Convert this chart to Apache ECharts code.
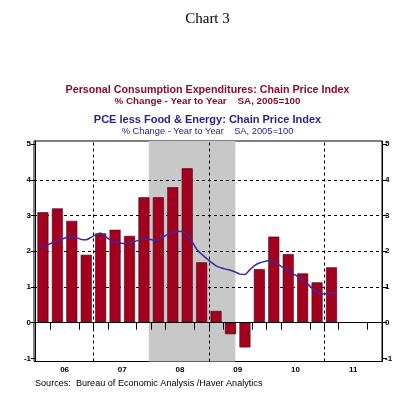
<!DOCTYPE html>
<html><head><meta charset="utf-8">
<script src="https://cdn.jsdelivr.net/npm/echarts@6/dist/echarts.min.js"></script>
<style>html,body{margin:0;padding:0;background:#fff}#c{width:415px;height:393px}</style>
</head><body><div id="c"></div>
<script>
// Quarterly PCE chain price index, % change y/y, 2006Q1..2011Q1
const pce = [3.09, 3.20, 2.85, 1.90, 2.50, 2.60, 2.43, 3.51, 3.51, 3.79, 4.32, 1.69,
             0.33, -0.32, -0.69, 1.50, 2.41, 1.92, 1.38, 1.13, 1.55];
// Monthly core PCE (less food & energy), % change y/y, Jan 2006..Mar 2011
const core = [2.17, 2.12, 2.18, 2.24, 2.30, 2.34, 2.39, 2.43, 2.38, 2.33, 2.32, 2.39,
              2.46, 2.51, 2.41, 2.32, 2.26, 2.23, 2.21, 2.23, 2.27, 2.31, 2.35, 2.34,
              2.31, 2.31, 2.40, 2.48, 2.52, 2.56, 2.55, 2.48, 2.27, 2.05, 1.92, 1.80,
              1.69, 1.59, 1.54, 1.50, 1.47, 1.42, 1.36, 1.35, 1.48, 1.60, 1.67, 1.71,
              1.74, 1.74, 1.63, 1.54, 1.46, 1.37, 1.29, 1.20, 1.09, 0.96, 0.86, 0.80,
              0.82, 0.83, 0.84];
const yearLabels = ['06', '07', '08', '09', '10', '11'];
const yTicks = [-1, 0, 1, 2, 3, 4, 5];
const gridLevels = [1, 2, 3, 4];
const yearGridQuarters = [4, 12, 20];      // Jan 2007, Jan 2009, Jan 2011
const recessionMonths = [23, 41];          // Dec 2007 .. Jun 2009 (months since Jan 2006)

const RED = '#A30020', BLUE = '#3A2A9E';
const barData = pce.map((v, i) => [i + 0.5, v]);
const lineData = core.map((v, i) => [(i + 0.5) / 3, v]);
const tickVals = [];
for (let q = 0; q <= 24; q++) if (q % 4 !== 2) tickVals.push(q);
const labelVals = yearLabels.map((_, i) => i * 4 + 2);

const chart = echarts.init(document.getElementById('c'));
const axisFont = { fontFamily: 'Liberation Sans, Arial, sans-serif', fontWeight: 'bold', fontSize: 8, color: '#000' };
chart.setOption({
  animation: false,
  backgroundColor: '#fff',
  grid: { left: 34, right: 33, top: 141, bottom: 31.5, show: true, borderColor: '#000', borderWidth: 1 },
  graphic: [
    { type: 'text', left: 'center', top: 12, style: { text: 'Chart 3', font: '15px "Liberation Serif", "Times New Roman", serif', fill: '#000' } },
    { type: 'text', left: 'center', top: 85, style: { text: 'Personal Consumption Expenditures: Chain Price Index', font: 'bold 10.7px "Liberation Sans", Arial, sans-serif', fill: '#8E0A2C' } },
    { type: 'text', left: 'center', top: 96.5, style: { text: '% Change - Year to Year    SA, 2005=100', font: 'bold 9.8px "Liberation Sans", Arial, sans-serif', fill: '#8E0A2C' } },
    { type: 'text', left: 'center', top: 114, style: { text: 'PCE less Food & Energy: Chain Price Index', font: 'bold 11px "Liberation Sans", Arial, sans-serif', fill: '#2E2090' } },
    { type: 'text', left: 'center', top: 127, style: { text: '% Change - Year to Year    SA, 2005=100', font: '9.3px "Liberation Sans", Arial, sans-serif', fill: '#2E2090' } },
    { type: 'text', left: 35, top: 378.5, style: { text: 'Sources:  Bureau of Economic Analysis /Haver Analytics', font: '9.1px "Liberation Sans", Arial, sans-serif', fill: '#000' } }
  ],
  xAxis: {
    type: 'value', min: -0.12, max: 24,
    axisLine: { show: true, lineStyle: { color: '#000' } },
    axisTick: { show: true, customValues: tickVals, length: 7, lineStyle: { color: '#000' } },
    axisLabel: Object.assign({ customValues: labelVals, margin: 4, formatter: v => yearLabels[(v - 2) / 4] }, axisFont),
    splitLine: { show: false }
  },
  yAxis: [
    { type: 'value', min: -1.084, max: 5.084, position: 'left',
      axisLine: { show: true, lineStyle: { color: '#000' } },
      axisTick: { show: true, customValues: yTicks, length: 5, lineStyle: { color: '#000' } },
      axisLabel: Object.assign({ customValues: yTicks, margin: 3 }, axisFont),
      splitLine: { show: false } },
    { type: 'value', min: -1.084, max: 5.084, position: 'right',
      axisLine: { show: true, lineStyle: { color: '#000' } },
      axisTick: { show: true, customValues: yTicks, length: 5, lineStyle: { color: '#000' } },
      axisLabel: Object.assign({ customValues: yTicks, margin: 3 }, axisFont),
      splitLine: { show: false } }
  ],
  series: [
    { type: 'line', data: [], z: 1,
      markArea: { silent: true, z: 0, itemStyle: { color: '#C8C8C8' },
        data: [[{ xAxis: (recessionMonths[0] + 0.5) / 3 }, { xAxis: (recessionMonths[1] + 0.5) / 3 }]] },
      markLine: { silent: true, symbol: 'none', z: 1, label: { show: false },
        lineStyle: { color: '#000', type: [3, 3], width: 1 },
        data: gridLevels.map(v => ({ yAxis: v })).concat(yearGridQuarters.map(q => ({ xAxis: q }))) } },
    { type: 'bar', data: barData, barWidth: 11, z: 3,
      itemStyle: { color: RED, borderColor: '#4A0010', borderWidth: 0.6 },
      markLine: { silent: true, symbol: 'none', z: 4, label: { show: false },
        lineStyle: { color: '#000', type: 'solid', width: 1 }, data: [{ yAxis: 0 }] } },
    { type: 'line', data: lineData, z: 5, symbol: 'none', smooth: 0.2,
      lineStyle: { color: BLUE, width: 1.5 } }
  ]
});
</script></body></html>
